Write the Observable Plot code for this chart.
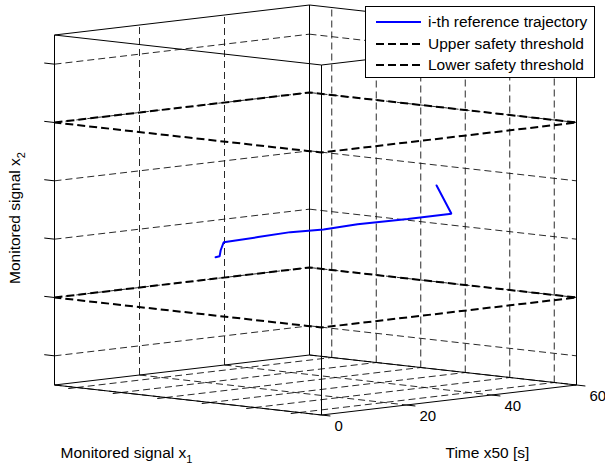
<!DOCTYPE html>
<html><head><meta charset="utf-8">
<script src="https://cdn.jsdelivr.net/npm/d3@7"></script>
<script src="https://cdn.jsdelivr.net/npm/@observablehq/plot@0.6"></script>
<style>
body{margin:0;background:#fff;}
#wrap{position:relative;width:605px;height:470px;font-family:"Liberation Sans",Arial,sans-serif;}
#legend{position:absolute;left:365px;top:6px;width:230px;height:72px;box-sizing:border-box;border:1px solid #000;background:#fff;font-size:15.5px;color:#000;}
#legend .row{position:absolute;left:0;width:100%;height:20px;}
#legend svg{position:absolute;left:10px;top:0;}
#legend span{position:absolute;left:62px;top:0;line-height:20px;white-space:nowrap;}
</style></head>
<body><div id="wrap"></div>
<script>
// ---- data ----
const timeTicks = [0, 20, 40, 60];
const timeRange = [0, 60];
const x1Range = [-3, 3];
const x2Range = [-3, 3];
const x1Ticks = [-2.5, -1.5, -0.5, 0.5, 1.5, 2.5];
const x2Ticks = [-2.5, -1.5, -0.5, 0.5, 1.5, 2.5];
const trajTime = [0, 0.95, 1.2, 1.9, 10, 17.6, 25.4, 33.4, 45.2, 55.5, 56.5];
const trajX1   = [0.62, 0.62, 0.62, 0.62, 0.62, 0.62, 0.62, 0.62, 0.62, 0.62, 0.19];
const trajX2   = [-0.50, -0.49, -0.39, -0.26, -0.24, -0.22, -0.24, -0.22, -0.23, -0.23, 0.21];
const upperThreshold = 1.5;
const lowerThreshold = -1.5;
const seriesNames = ["i-th reference trajectory", "Upper safety threshold", "Lower safety threshold"];
const xLabel = "Monitored signal x_1";
const tLabel = "Time x50 [s]";
const zLabel = "Monitored signal x_2";

// ---- view (3-D camera, screen displacement of each full axis) ----
const W = 605, H = 470;
const view = {origin: [321, 414.5], tVec: [255, -30], x1Vec: [267, 30], zVec: [0, -350]};
function P(t, x1, z) {
  const ft = (t - timeRange[0]) / (timeRange[1] - timeRange[0]);
  const fx = (x1 - x1Range[1]) / (x1Range[1] - x1Range[0]);
  const fz = (z - x2Range[0]) / (x2Range[1] - x2Range[0]);
  return [view.origin[0] + ft * view.tVec[0] + fx * view.x1Vec[0] + fz * view.zVec[0],
          view.origin[1] + ft * view.tVec[1] + fx * view.x1Vec[1] + fz * view.zVec[1]];
}
let sid = 0;
function seg(rows, pts) { const id = sid++; for (const p of pts) { const [X, Y] = P(...p); rows.push({X, Y, id}); } }

const [t0, t1] = timeRange, [a0, a1] = x1Range, [z0, z1] = x2Range;

// grid
const grid = [];
for (const x of x1Ticks) { seg(grid, [[t0, x, z0], [t1, x, z0]]); seg(grid, [[t1, x, z0], [t1, x, z1]]); }
for (const t of timeTicks) { seg(grid, [[t, a0, z0], [t, a1, z0]]); seg(grid, [[t, a0, z0], [t, a0, z1]]); }
for (const z of x2Ticks) { seg(grid, [[t0, a0, z], [t1, a0, z]]); seg(grid, [[t1, a0, z], [t1, a1, z]]); }

// box edges
const box = [];
for (const z of [z0, z1]) seg(box, [[t0, a0, z], [t1, a0, z], [t1, a1, z], [t0, a1, z], [t0, a0, z]]);
for (const t of [t0, t1]) for (const a of [a0, a1]) seg(box, [[t, a, z0], [t, a, z1]]);

// ticks
const ticks = [];
for (const z of x2Ticks) seg(ticks, [[t0, a0, z], [t0, a0 - 0.23, z]]);
for (const x of x1Ticks) seg(ticks, [[t0, x, z0], [t0 - 2, x, z0]]);
for (const t of timeTicks) seg(ticks, [[t, a1, z0], [t, a1 + 0.2, z0]]);

// thresholds
const thr = [];
for (const z of [upperThreshold, lowerThreshold]) seg(thr, [[t0, a0, z], [t1, a0, z], [t1, a1, z], [t0, a1, z], [t0, a0, z]]);

// trajectory
const traj = trajTime.map((t, i) => { const [X, Y] = P(t, trajX1[i], trajX2[i]); return {X, Y}; });

const tickLab = timeTicks.map(t => { const [X, Y] = P(t, a1, z0); return {X, Y, s: String(t)}; });
const lab = [
  (() => { const [X, Y] = P(t0, a0, z0); return {X: X + 6, Y: Y + 68, s: xLabel}; })(),
  (() => { const [X, Y] = P((t0 + t1) / 2, a1, z0); return {X: X - 3.5, Y: Y + 53, s: tLabel}; })()
];
const zlab = (() => { const [X, Y] = P(t0, a0, (z0 + z1) / 2); return [{X: X - 39.5, Y: Y + 8, s: zLabel}]; })();

const lineOpts = {x: "X", y: "Y", z: "id", strokeLinecap: "butt", strokeLinejoin: "miter", curve: "linear"};
const chart = Plot.plot({
  width: W, height: H,
  margin: 0,
  x: {domain: [0, W], range: [0, W], axis: null},
  y: {domain: [0, H], range: [0, H], axis: null},
  style: {fontFamily: "Liberation Sans, Arial, sans-serif", fontSize: "15px", background: "#fff", color: "#000"},
  marks: [
    Plot.line(grid, {...lineOpts, stroke: "#111", strokeWidth: 0.9, strokeDasharray: "7,4"}),
    Plot.line(box, {...lineOpts, stroke: "#000", strokeWidth: 1}),
    Plot.line(ticks, {...lineOpts, stroke: "#000", strokeWidth: 1}),
    Plot.line(thr, {...lineOpts, stroke: "#000", strokeWidth: 2, strokeDasharray: "8,4"}),
    Plot.line(traj, {x: "X", y: "Y", stroke: "#0000ff", strokeWidth: 2, strokeLinejoin: "miter"}),
    Plot.text(tickLab, {x: "X", y: "Y", text: "s", dx: 13, dy: 11, textAnchor: "start", fontSize: 15, fill: "#000"}),
    Plot.text(lab, {x: "X", y: "Y", text: "s", textAnchor: "start", fontSize: 15.5, fill: "#000"}),
    Plot.text(zlab, {x: "X", y: "Y", text: "s", rotate: -90, textAnchor: "middle", fontSize: 15.5, fill: "#000"})
  ]
});
// subscripts
chart.querySelectorAll("text").forEach(el => {
  const s = el.textContent;
  if (s.includes("_")) {
    const [main, sub] = s.split("_");
    el.textContent = main;
    const ts = document.createElementNS("http://www.w3.org/2000/svg", "tspan");
    ts.setAttribute("dy", "5");
    ts.setAttribute("font-size", "11");
    ts.textContent = sub;
    el.appendChild(ts);
  }
});
const wrap = document.getElementById("wrap");
wrap.appendChild(chart);

// legend
const leg = document.createElement("div");
leg.id = "legend";
const styles = [{stroke: "#0000ff", dash: null}, {stroke: "#000", dash: "8,4"}, {stroke: "#000", dash: "8,4"}];
const rowTops = [5, 27, 48];
seriesNames.forEach((name, i) => {
  const r = document.createElement("div");
  r.className = "row";
  r.style.top = rowTops[i] + "px";
  r.innerHTML = `<svg width="46" height="20"><line x1="0" x2="45" y1="10" y2="10" stroke="${styles[i].stroke}" stroke-width="2" ${styles[i].dash ? `stroke-dasharray="${styles[i].dash}"` : ""}/></svg><span>${name}</span>`;
  leg.appendChild(r);
});
wrap.appendChild(leg);
</script>
</body></html>
